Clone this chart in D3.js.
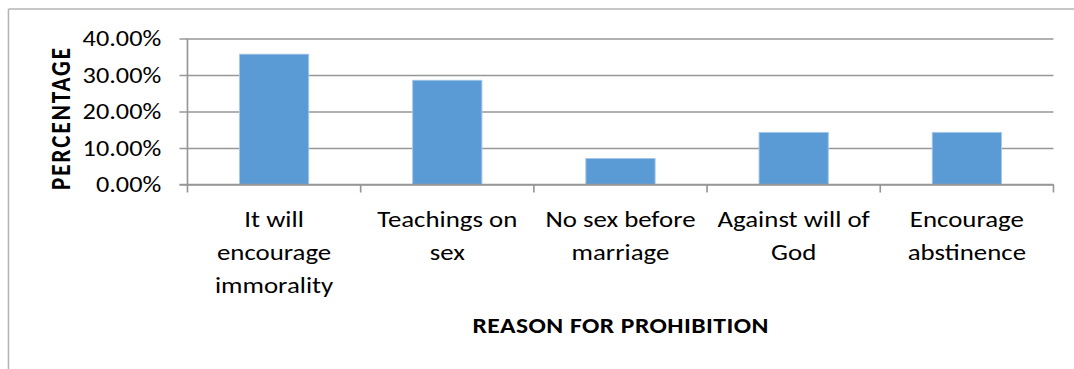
<!DOCTYPE html>
<html>
<head>
<meta charset="utf-8">
<script src="https://cdn.jsdelivr.net/npm/d3@7"></script>
<style>
  html, body { margin: 0; padding: 0; background: #fff; }
  svg { display: block; }
  text { font-family: Carlito, Calibri, Lato, sans-serif; fill: #000; }
</style>
</head>
<body>
<div id="chart"></div>
<script>
// Reasons given for the prohibition, share of respondents
const categories = [
  ["It will", "encourage", "immorality"],
  ["Teachings on", "sex"],
  ["No sex before", "marriage"],
  ["Against will of", "God"],
  ["Encourage", "abstinence"]
];
const percentages = [35.71, 28.57, 7.14, 14.29, 14.29];
const yTicks = [0, 10, 20, 30, 40];
const yTitle = "PERCENTAGE";
const xTitle = "REASON FOR PROHIBITION";

// Drawing space is 900 wide and stretched to the page width
const W = 900, H = 369, outW = 1074;
const margin = { top: 38.5, left: 157.1, right: 17.2, bottom: 184.5 };

const svg = d3.select("#chart").append("svg")
  .attr("width", outW).attr("height", H)
  .attr("viewBox", `0 0 ${W} ${H}`)
  .attr("preserveAspectRatio", "none");

// Chart frame
svg.append("line").attr("x1", 7.1).attr("x2", W).attr("y1", 9).attr("y2", 9)
  .attr("stroke", "#b4b4b4").attr("stroke-width", 1.3);
svg.append("line").attr("x1", 7.1).attr("x2", 7.1).attr("y1", 9).attr("y2", H)
  .attr("stroke", "#b4b4b4").attr("stroke-width", 1.3);

const x = d3.scaleBand()
  .domain(d3.range(categories.length))
  .range([margin.left, W - margin.right])
  .paddingInner(0.6).paddingOuter(0.3);

const y = d3.scaleLinear().domain([0, 40]).range([margin.bottom, margin.top]);

const gridColor = "#979797";

// Horizontal gridlines with left tick marks
const yAxis = d3.axisLeft(y).tickValues(yTicks)
  .tickSize(-(W - margin.right - margin.left))
  .tickFormat(d => d3.format(".2f")(d) + "%");
const gy = svg.append("g").attr("transform", `translate(${margin.left},0)`).call(yAxis);
gy.select(".domain").remove();
gy.selectAll(".tick line")
  .attr("x1", -6.7)
  .attr("stroke", gridColor).attr("stroke-width", 1.4);
gy.selectAll(".tick text")
  .attr("x", -22).attr("dy", "0.34em")
  .style("font-size", "22px");

// Category axis: baseline and separators between categories
const bounds = d3.range(categories.length + 1).map(i => margin.left + i * x.step());
svg.append("g").selectAll("line").data(bounds).join("line")
  .attr("x1", d => d).attr("x2", d => d)
  .attr("y1", margin.bottom).attr("y2", margin.bottom + 8)
  .attr("stroke", gridColor).attr("stroke-width", 1.4);
svg.append("line")
  .attr("x1", margin.left).attr("x2", margin.left)
  .attr("y1", margin.top).attr("y2", margin.bottom)
  .attr("stroke", gridColor).attr("stroke-width", 1.4);

// Bars
svg.append("g").selectAll("rect").data(percentages).join("rect")
  .attr("x", (d, i) => x(i))
  .attr("y", d => y(d))
  .attr("width", x.bandwidth())
  .attr("height", d => y(0) - y(d))
  .attr("fill", "#5b9bd5")
  .attr("stroke", "#a9c8e8").attr("stroke-width", 0.8);

// Redraw the baseline above the bars
svg.append("line")
  .attr("x1", margin.left - 6.7).attr("x2", W - margin.right)
  .attr("y1", y(0)).attr("y2", y(0))
  .attr("stroke", gridColor).attr("stroke-width", 1.4);

// Category labels
const lab = svg.append("g").selectAll("text").data(categories).join("text")
  .attr("text-anchor", "middle")
  .style("font-size", "22.5px");
lab.each(function(lines, i) {
  const t = d3.select(this);
  lines.forEach((ln, k) => {
    t.append("tspan")
      .attr("x", x(i) + x.bandwidth() / 2)
      .attr("y", 227 + k * 33)
      .text(ln);
  });
});

// Axis titles
svg.append("text")
  .attr("transform", `translate(58.5,119) rotate(-90)`)
  .attr("text-anchor", "middle")
  .attr("textLength", 142).attr("lengthAdjust", "spacing")
  .style("font-size", "23px").style("font-weight", "bold")
  .text(yTitle);

svg.append("text")
  .attr("x", (margin.left + W - margin.right) / 2).attr("y", 333)
  .attr("text-anchor", "middle")
  .attr("textLength", 248).attr("lengthAdjust", "spacing")
  .style("font-size", "21.5px").style("font-weight", "bold")
  .text(xTitle);
</script>
</body>
</html>
